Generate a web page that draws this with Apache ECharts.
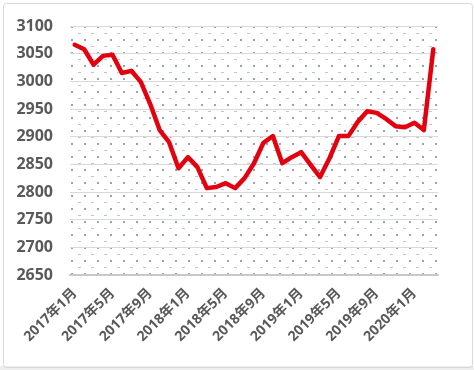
<!DOCTYPE html>
<html>
<head>
<meta charset="utf-8">
<script src="https://cdn.jsdelivr.net/npm/echarts@6/dist/echarts.min.js"></script>
<style>
html,body{margin:0;padding:0;background:#fff;}
#c{width:474px;height:370px;}
</style>
</head>
<body>
<div id="c"></div>
<script>
// Data
const months = [];
for (let y = 2017; y <= 2020; y++) {
  for (let m = 1; m <= 12; m++) {
    if (y === 2020 && m > 3) break;
    months.push(y + '年' + m + '月');
  }
}
const values = [
  3066, 3058, 3030, 3046, 3048, 3015, 3019, 2999, 2959, 2912,
  2890, 2843, 2863, 2845, 2807, 2809, 2816, 2807, 2825, 2852,
  2889, 2901, 2852, 2863, 2872, 2849, 2827, 2861, 2901, 2901,
  2927, 2946, 2943, 2932, 2919, 2917, 2925, 2912, 3058
];
const yTicks = { min: 2650, max: 3100, step: 50 };

// dotted pattern for the plot area
const tile = document.createElement('canvas');
tile.width = 13; tile.height = 13;
const g = tile.getContext('2d');
g.fillStyle = '#ffffff';
g.fillRect(0, 0, 13, 13);
g.fillStyle = '#97a3b8';
g.fillRect(6, 0, 2, 2);
g.fillStyle = '#c4c4c4';
g.fillRect(0, 7, 3, 1);

const chart = echarts.init(document.getElementById('c'), null, { renderer: 'canvas' });
const fontFam = '"Open Sans", "Noto Sans CJK SC", sans-serif';
chart.setOption({
  animation: false,
  backgroundColor: '#ffffff',
  graphic: [
    { type: 'rect', left: 0, top: 366, shape: { width: 474, height: 4 }, style: { fill: '#eeeeee' }, z: -10 },
    { type: 'rect', left: 1, top: 1, shape: { width: 469, height: 364, r: 3 }, style: { fill: 'none', stroke: '#d9d9d9', lineWidth: 1 }, z: -9 }
  ],
  grid: {
    left: 70, right: 36, top: 26, bottom: 95,
    show: true, borderWidth: 0,
    backgroundColor: { image: tile, repeat: 'repeat' }
  },
  xAxis: {
    type: 'category',
    data: months,
    boundaryGap: true,
    axisLine: { show: true, lineStyle: { color: '#c8c8c8', width: 2 } },
    axisTick: { show: false },
    axisLabel: {
      interval: 3,
      rotate: 45,
      margin: 16,
      color: '#595959',
      fontSize: 14,
      fontWeight: 'bold',
      fontFamily: fontFam
    },
    splitLine: { show: false }
  },
  yAxis: {
    type: 'value',
    min: yTicks.min, max: yTicks.max, interval: yTicks.step,
    axisLine: { show: false },
    axisTick: { show: false },
    axisLabel: {
      margin: 17,
      color: '#595959',
      fontSize: 16,
      fontWeight: 'bold',
      fontFamily: fontFam,
      formatter: function (v) { return String(v); }
    },
    splitLine: { show: true, lineStyle: { color: '#d9d9d9', width: 1 } }
  },
  series: [{
    type: 'line',
    data: values,
    symbol: 'none',
    smooth: false,
    lineStyle: { color: '#e3000f', width: 4.5, join: 'round', cap: 'round' }
  }]
});
</script>
</body>
</html>
